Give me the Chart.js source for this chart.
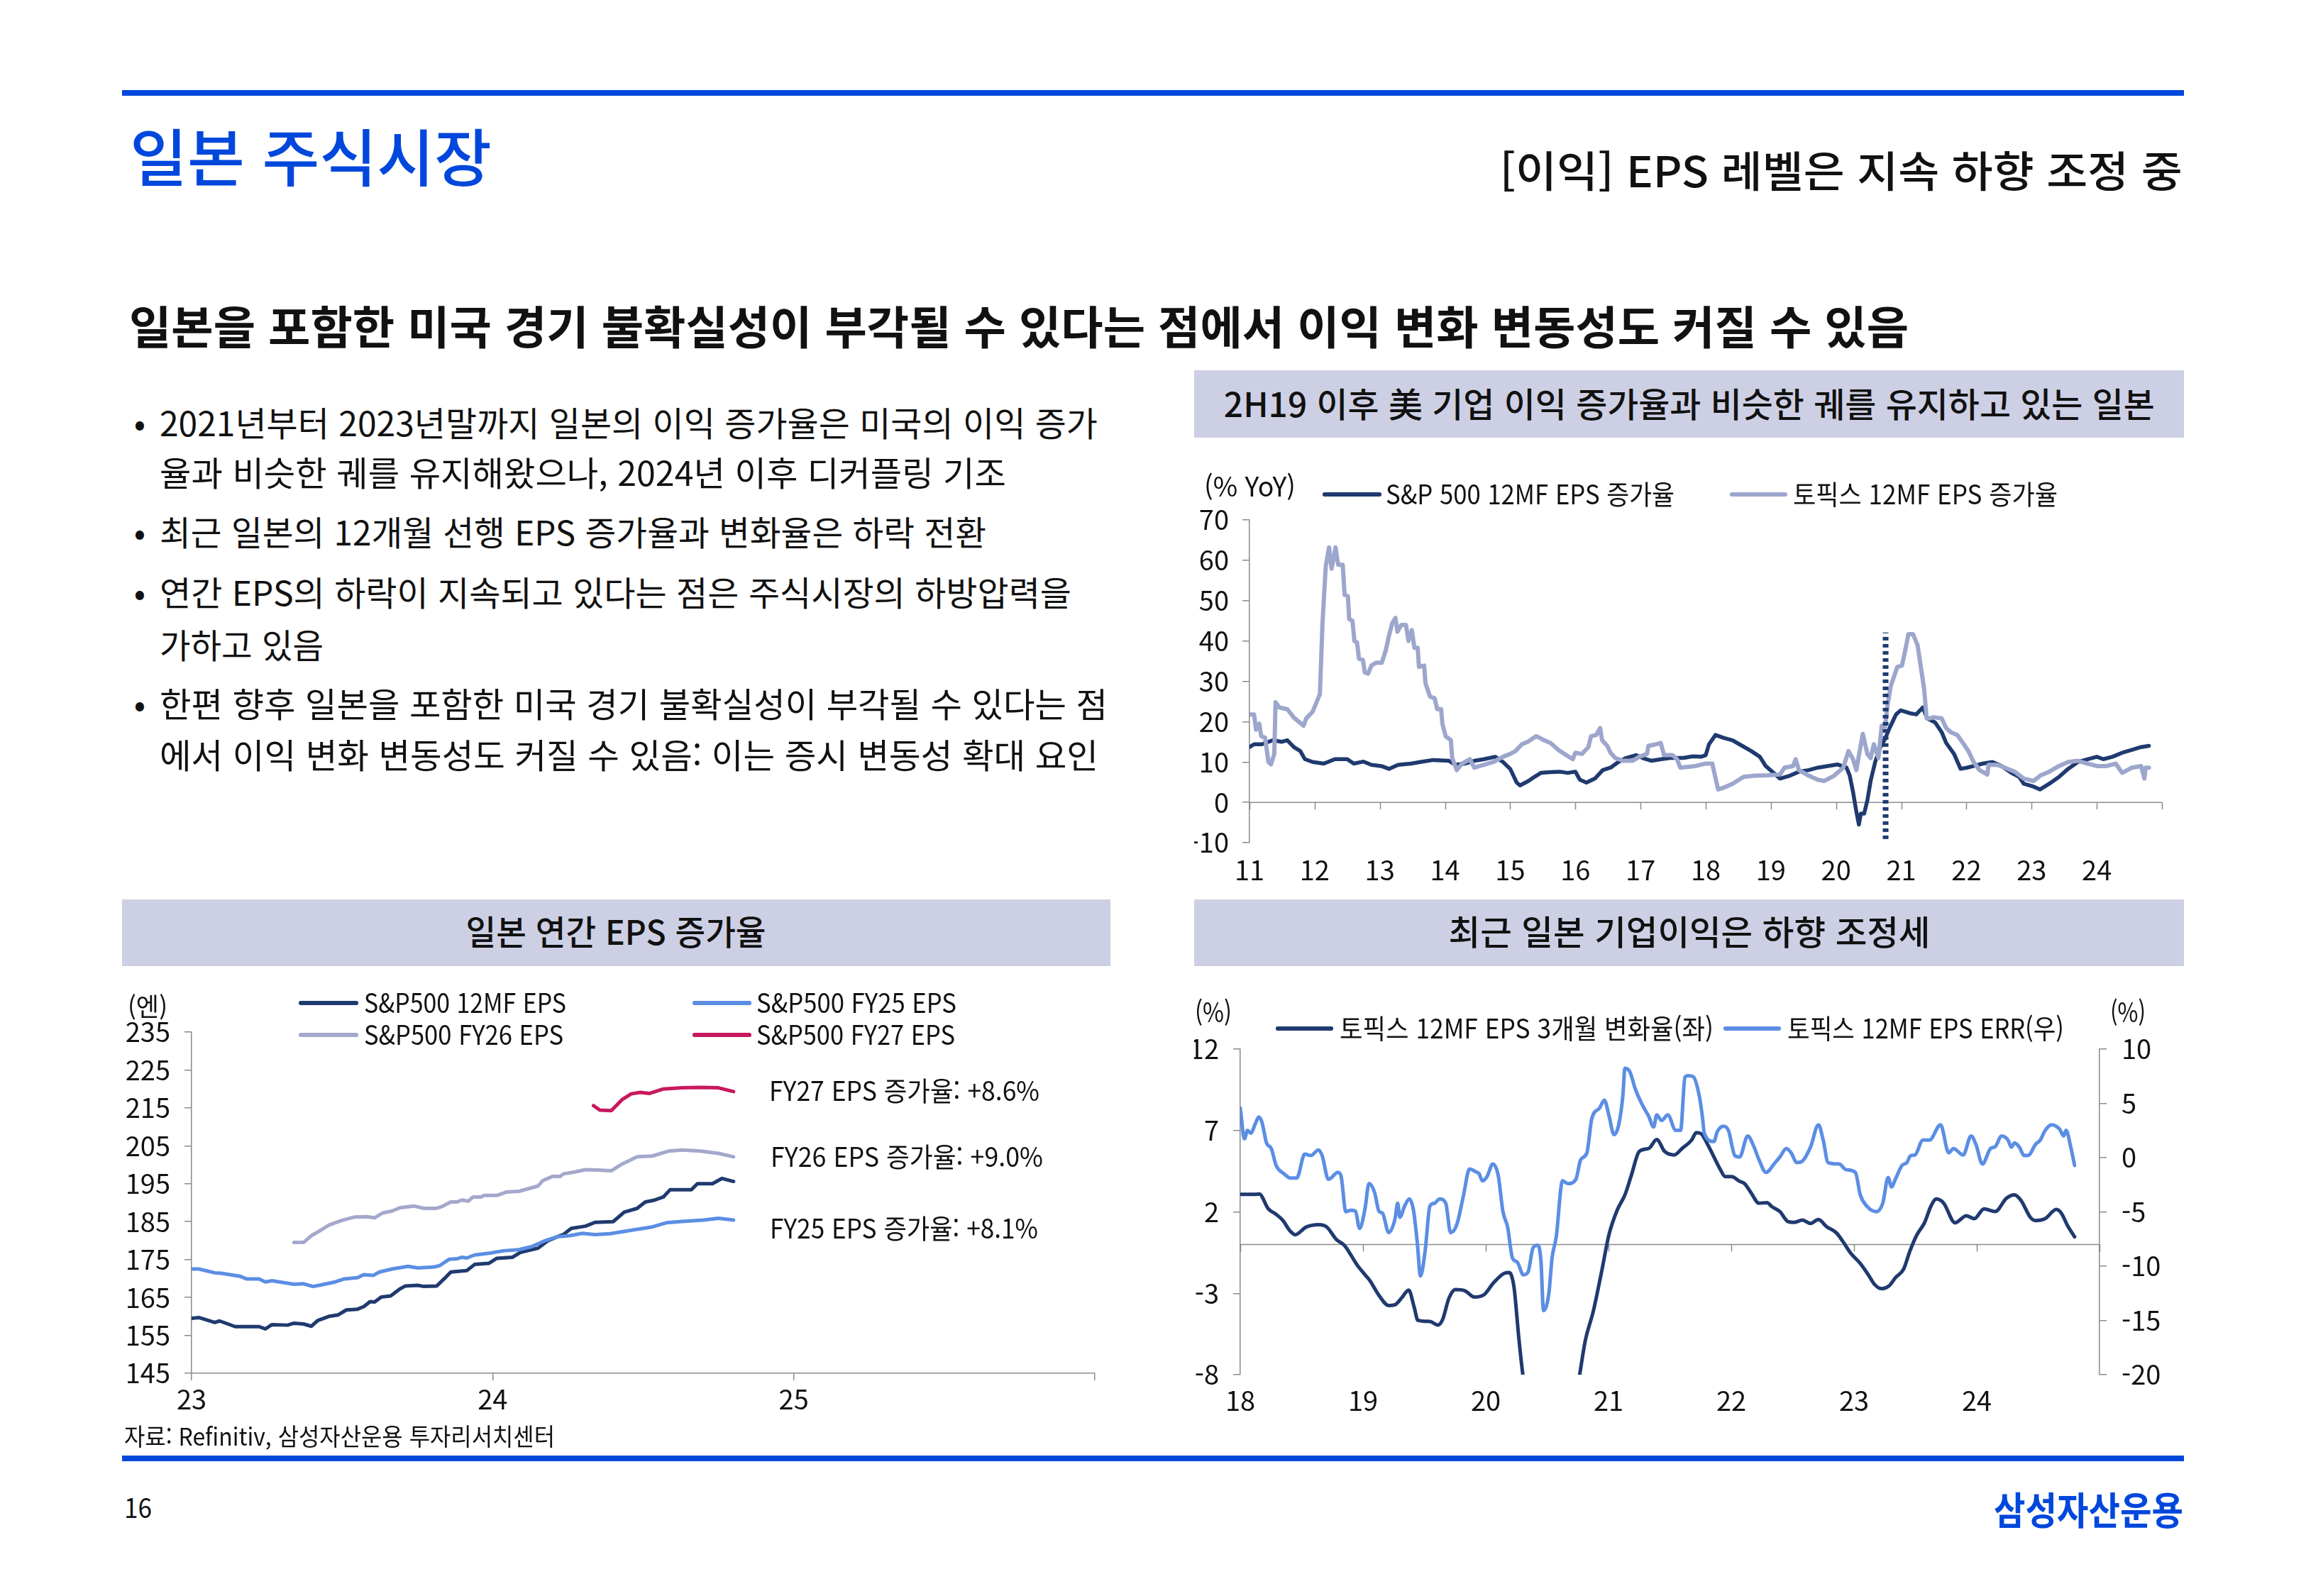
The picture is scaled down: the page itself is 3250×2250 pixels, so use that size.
<!DOCTYPE html>
<html lang="ko"><head><meta charset="utf-8"><title>일본 주식시장</title>
<script src="https://cdn.jsdelivr.net/npm/chart.js@4.4.1/dist/chart.umd.min.js"></script>
<style>
html,body{margin:0;padding:0;background:#fff;}
#page{position:relative;width:3250px;height:2250px;overflow:hidden;background:#fff;font-family:"Noto Sans CJK KR","Noto Sans",sans-serif;color:#111;}
.t{position:absolute;left:0;top:0;white-space:nowrap;}
.r{position:absolute;}
canvas{position:absolute;}
</style></head><body><div id="page">
<canvas id="c1" width="1395" height="640" style="left:1683px;top:640px;width:1395px;height:640px"></canvas>
<canvas id="c2" width="1400" height="640" style="left:172px;top:1380px;width:1400px;height:640px"></canvas>
<canvas id="c3" width="1395" height="640" style="left:1683px;top:1380px;width:1395px;height:640px"></canvas>
</div>
<script>
// ---------------- DATA ----------------
// Chart 1: 12MF EPS growth (% YoY)
const c1YearLabels = ['11','12','13','14','15','16','17','18','19','20','21','22','23','24'];
const c1SpYears = [2011.00,2011.07,2011.19,2011.36,2011.49,2011.58,2011.68,2011.78,2011.85,2011.97,2012.14,2012.31,2012.50,2012.60,2012.75,2012.87,2013.02,2013.14,2013.28,2013.48,2013.62,2013.82,2014.06,2014.16,2014.30,2014.45,2014.60,2014.77,2014.89,2015.00,2015.05,2015.10,2015.15,2015.28,2015.37,2015.47,2015.62,2015.76,2015.88,2016.00,2016.07,2016.17,2016.30,2016.42,2016.54,2016.66,2016.78,2016.93,2017.03,2017.17,2017.32,2017.46,2017.66,2017.80,2017.93,2018.00,2018.05,2018.15,2018.27,2018.41,2018.56,2018.70,2018.83,2018.92,2019.02,2019.14,2019.29,2019.43,2019.58,2019.72,2019.87,2020.02,2020.16,2020.21,2020.26,2020.31,2020.35,2020.38,2020.43,2020.48,2020.53,2020.60,2020.67,2020.75,2020.82,2020.92,2020.99,2021.13,2021.23,2021.33,2021.40,2021.52,2021.62,2021.69,2021.81,2021.91,2022.01,2022.11,2022.25,2022.40,2022.54,2022.69,2022.81,2022.88,2023.03,2023.13,2023.27,2023.42,2023.56,2023.71,2023.86,2024.00,2024.10,2024.24,2024.39,2024.54,2024.68,2024.80];
const c1SpGrowth = [13.7,14.4,14.4,15.4,15.0,15.4,13.7,12.7,10.7,10.0,9.6,10.7,10.7,9.6,10.1,9.3,9.0,8.3,9.3,9.6,10.0,10.5,10.3,9.3,9.6,10.3,10.7,11.3,10.0,8.3,6.6,4.9,4.2,5.3,6.3,7.3,7.5,7.6,7.3,7.6,5.6,4.9,5.9,8.0,8.6,10.0,11.0,11.7,11.0,10.3,10.7,11.0,11.0,11.4,11.3,11.7,14.4,16.7,16.0,15.4,14.0,12.7,11.3,9.0,7.6,5.9,6.6,7.6,8.0,8.6,9.0,9.4,8.6,6.6,2.6,-2.2,-5.5,-2.8,-2.8,0.5,5.3,10.0,13.4,15.7,18.4,21.8,22.8,22.1,21.8,23.5,20.8,19.8,17.4,14.7,12.0,8.3,8.6,9.0,9.6,10.0,9.0,7.3,6.3,4.6,3.9,3.2,4.6,6.3,8.3,10.0,10.7,11.3,10.7,11.3,12.3,13.0,13.7,14.0];
const c1TpxYears = [2011.00,2011.07,2011.10,2011.15,2011.18,2011.24,2011.29,2011.33,2011.38,2011.40,2011.46,2011.58,2011.68,2011.83,2011.87,2011.97,2012.02,2012.08,2012.12,2012.17,2012.22,2012.26,2012.32,2012.36,2012.43,2012.46,2012.51,2012.53,2012.58,2012.61,2012.65,2012.68,2012.74,2012.77,2012.82,2012.87,2012.94,2013.03,2013.09,2013.14,2013.19,2013.24,2013.27,2013.33,2013.40,2013.44,2013.49,2013.53,2013.58,2013.60,2013.68,2013.70,2013.77,2013.84,2013.88,2013.94,2013.96,2014.01,2014.09,2014.11,2014.18,2014.26,2014.38,2014.45,2014.60,2014.74,2014.89,2015.00,2015.08,2015.18,2015.27,2015.40,2015.52,2015.62,2015.74,2015.86,2015.96,2016.00,2016.10,2016.20,2016.24,2016.32,2016.38,2016.41,2016.49,2016.54,2016.61,2016.73,2016.88,2016.98,2017.10,2017.12,2017.24,2017.31,2017.36,2017.49,2017.56,2017.61,2017.84,2018.00,2018.10,2018.19,2018.27,2018.41,2018.58,2018.75,2018.95,2019.14,2019.21,2019.34,2019.38,2019.43,2019.58,2019.72,2019.82,2019.97,2020.11,2020.19,2020.26,2020.31,2020.41,2020.48,2020.53,2020.58,2020.65,2020.70,2020.75,2020.79,2020.84,2020.94,2021.01,2021.06,2021.11,2021.18,2021.25,2021.30,2021.35,2021.39,2021.43,2021.50,2021.62,2021.69,2021.76,2021.86,2021.96,2022.03,2022.11,2022.20,2022.32,2022.34,2022.47,2022.59,2022.74,2022.88,2023.03,2023.13,2023.27,2023.42,2023.56,2023.71,2023.86,2024.00,2024.15,2024.29,2024.39,2024.54,2024.68,2024.73,2024.75,2024.80];
const c1TpxGrowth = [21.8,21.8,18.0,19.5,16.4,16.0,10.0,9.4,12.0,24.8,23.5,23.1,21.0,19.0,20.8,22.5,24.5,26.8,44.4,58.5,63.2,57.9,63.2,58.9,58.9,51.4,51.1,45.4,45.0,40.0,39.6,35.6,35.3,32.2,31.9,33.9,34.6,34.6,37.6,41.3,44.4,45.7,42.3,44.0,44.0,40.0,42.7,38.3,38.3,33.6,33.9,29.5,26.2,25.8,23.1,23.1,19.4,16.4,15.4,11.0,8.0,9.6,10.7,8.6,9.3,10.0,11.3,12.0,12.7,14.4,15.0,16.4,15.4,14.7,13.0,11.7,10.7,12.3,12.0,13.7,16.4,16.7,18.4,15.4,14.0,12.3,11.0,10.3,10.3,11.3,12.0,14.0,14.4,14.7,11.7,11.7,10.7,8.6,9.0,9.6,9.6,3.2,3.6,4.6,6.3,6.6,6.7,6.9,8.6,9.0,10.7,8.0,6.6,5.6,5.3,6.6,8.6,12.7,10.7,8.0,17.0,12.0,11.0,14.4,11.0,19.0,18.7,24.1,28.9,33.6,33.9,37.6,41.7,41.7,39.0,33.6,28.2,20.8,20.8,21.1,20.8,18.4,17.4,16.7,14.4,12.7,10.0,8.0,6.9,9.3,9.3,8.6,7.6,5.9,5.3,6.6,7.6,9.0,10.0,10.3,9.6,9.0,9.0,9.6,7.3,8.6,9.0,5.9,8.6,8.6];
const c1MarkerYear = 2020.76;          // 2H19 reference marker (dotted)
const c1MarkerSpan = [-9.1, 42.1];

// Chart 2: EPS levels (엔)
const c2YearLabels = ['23','24','25'];
const c2FwdYears = [2023.000,2023.024,2023.077,2023.093,2023.145,2023.224,2023.245,2023.266,2023.319,2023.340,2023.372,2023.398,2023.419,2023.456,2023.487,2023.514,2023.551,2023.572,2023.593,2023.608,2023.630,2023.661,2023.693,2023.709,2023.751,2023.772,2023.814,2023.840,2023.861,2023.887,2023.914,2023.940,2023.987,2024.013,2024.066,2024.092,2024.151,2024.182,2024.214,2024.235,2024.261,2024.308,2024.340,2024.400,2024.437,2024.480,2024.507,2024.534,2024.567,2024.589,2024.660,2024.680,2024.730,2024.762,2024.800];
const c2FwdEps = [159.5,159.7,158.4,158.8,157.3,157.3,156.7,157.8,157.7,158.2,158.0,157.4,158.9,160.0,160.4,161.7,161.9,162.6,163.9,163.8,165.1,165.4,167.3,168.0,168.2,167.9,168.0,170.0,171.7,171.9,172.1,173.7,174.0,175.3,175.6,176.9,178.0,179.9,181.0,181.6,183.2,183.8,184.8,185.0,187.5,188.5,190.2,190.6,191.5,193.4,193.4,195.0,195.0,196.4,195.6];
const c2Fy25Years = [2023.000,2023.024,2023.077,2023.098,2023.161,2023.182,2023.224,2023.245,2023.266,2023.340,2023.372,2023.403,2023.424,2023.477,2023.508,2023.551,2023.572,2023.603,2023.624,2023.666,2023.719,2023.751,2023.803,2023.824,2023.856,2023.882,2023.898,2023.914,2023.940,2023.993,2024.035,2024.087,2024.129,2024.172,2024.214,2024.256,2024.298,2024.340,2024.390,2024.466,2024.530,2024.577,2024.620,2024.700,2024.750,2024.800];
const c2Fy25Eps = [172.5,172.5,171.5,171.4,170.6,169.9,169.9,169.1,169.4,168.5,168.6,167.9,168.2,169.1,169.9,170.2,171.0,170.8,171.7,172.5,173.2,172.8,173.0,173.4,175.1,175.2,175.6,175.4,176.2,176.7,177.3,177.6,178.4,179.9,181.0,181.3,181.9,181.6,181.8,182.8,183.6,184.7,185.0,185.4,185.9,185.4];
const c2Fy26Years = [2023.340,2023.372,2023.398,2023.424,2023.456,2023.498,2023.540,2023.582,2023.608,2023.635,2023.666,2023.693,2023.740,2023.772,2023.814,2023.835,2023.861,2023.882,2023.898,2023.919,2023.935,2023.961,2023.972,2024.014,2024.045,2024.087,2024.119,2024.151,2024.166,2024.198,2024.224,2024.235,2024.266,2024.308,2024.350,2024.394,2024.430,2024.480,2024.530,2024.584,2024.630,2024.690,2024.750,2024.800];
const c2Fy26Eps = [179.5,179.5,181.3,182.5,184.1,185.3,186.2,186.3,186.0,187.3,187.8,188.7,189.1,188.5,188.5,189.1,190.2,190.2,190.7,190.4,191.5,191.5,191.9,191.9,192.8,193.0,193.7,194.4,195.8,196.9,196.9,197.6,198.0,198.7,198.6,198.4,200.2,202.1,202.3,203.6,203.9,203.6,203.0,202.1];
const c2Fy27Years = [2024.335,2024.356,2024.394,2024.430,2024.460,2024.490,2024.520,2024.567,2024.630,2024.690,2024.750,2024.800];
const c2Fy27Eps = [215.6,214.4,214.3,217.2,218.7,219.1,218.8,220.0,220.3,220.4,220.3,219.3];

// Chart 3: TOPIX 12MF EPS 3M change (left) and ERR (right), %
const c3YearLabels = ['18','19','20','21','22','23','24'];
const c3ChgYears = [2018.000,2018.124,2018.155,2018.227,2018.292,2018.344,2018.408,2018.447,2018.537,2018.641,2018.705,2018.783,2018.848,2018.951,2019.016,2019.054,2019.132,2019.209,2019.261,2019.313,2019.372,2019.416,2019.447,2019.545,2019.610,2019.649,2019.700,2019.752,2019.829,2019.907,2019.984,2020.062,2020.152,2020.191,2020.230,2020.269,2020.302,2020.400,2020.550,2020.700,2020.765,2020.811,2020.876,2020.941,2021.005,2021.070,2021.134,2021.186,2021.251,2021.328,2021.393,2021.457,2021.535,2021.600,2021.676,2021.715,2021.754,2021.807,2021.859,2021.911,2021.951,2022.003,2022.068,2022.108,2022.160,2022.226,2022.291,2022.330,2022.396,2022.461,2022.514,2022.579,2022.645,2022.710,2022.776,2022.854,2022.907,2022.972,2023.051,2023.116,2023.168,2023.226,2023.286,2023.339,2023.404,2023.456,2023.509,2023.574,2023.627,2023.671,2023.731,2023.823,2023.915,2023.980,2024.059,2024.150,2024.242,2024.308,2024.360,2024.439,2024.478,2024.557,2024.648,2024.688,2024.740,2024.797];
const c3Chg = [3.08,3.08,3.10,2.20,1.85,1.50,0.81,0.60,1.07,1.22,1.07,0.30,-0.05,-1.25,-1.86,-2.20,-3.15,-3.75,-3.70,-3.30,-2.80,-3.83,-4.66,-4.73,-4.95,-4.60,-3.30,-2.77,-2.84,-3.23,-3.10,-2.37,-1.77,-1.73,-2.63,-5.73,-8.00,-13.0,-15.0,-11.0,-8.00,-5.90,-4.10,-1.77,0.64,2.10,3.05,4.25,5.72,5.90,6.44,5.72,5.50,5.90,6.40,6.87,6.80,6.15,5.37,4.60,4.17,4.17,3.88,3.74,3.19,2.53,2.57,2.33,2.02,1.41,1.36,1.50,1.29,1.53,1.10,0.73,0.21,-0.53,-1.17,-1.86,-2.46,-2.72,-2.54,-2.03,-1.51,-0.39,0.55,1.33,2.36,2.79,2.53,1.33,1.76,1.59,2.19,2.02,2.84,3.05,2.71,1.64,1.47,1.59,2.15,1.93,1.15,0.47];
const c3ErrYears = [2018.000,2018.034,2018.059,2018.085,2018.124,2018.150,2018.176,2018.214,2018.253,2018.292,2018.357,2018.408,2018.460,2018.525,2018.576,2018.636,2018.667,2018.718,2018.796,2018.822,2018.860,2018.899,2018.938,2018.972,2019.016,2019.049,2019.093,2019.132,2019.158,2019.209,2019.261,2019.282,2019.300,2019.339,2019.377,2019.411,2019.442,2019.468,2019.506,2019.545,2019.584,2019.623,2019.674,2019.713,2019.765,2019.817,2019.868,2019.920,2019.946,2019.972,2020.010,2020.057,2020.101,2020.140,2020.178,2020.217,2020.256,2020.307,2020.346,2020.385,2020.424,2020.450,2020.470,2020.514,2020.540,2020.574,2020.625,2020.669,2020.734,2020.773,2020.824,2020.863,2020.928,2020.966,2021.005,2021.044,2021.083,2021.116,2021.134,2021.173,2021.220,2021.276,2021.328,2021.367,2021.393,2021.432,2021.483,2021.548,2021.587,2021.623,2021.649,2021.689,2021.741,2021.767,2021.780,2021.859,2021.885,2021.937,2021.977,2022.029,2022.068,2022.134,2022.186,2022.226,2022.283,2022.357,2022.396,2022.448,2022.487,2022.535,2022.579,2022.645,2022.710,2022.749,2022.789,2022.880,2022.933,2023.011,2023.051,2023.103,2023.182,2023.234,2023.278,2023.305,2023.339,2023.391,2023.430,2023.462,2023.496,2023.561,2023.614,2023.705,2023.771,2023.810,2023.889,2023.954,2023.993,2024.046,2024.111,2024.150,2024.203,2024.255,2024.281,2024.308,2024.347,2024.386,2024.425,2024.478,2024.517,2024.557,2024.609,2024.674,2024.708,2024.727,2024.766,2024.797];
const c3Err = [4.58,1.74,2.51,2.25,3.16,3.75,3.29,1.35,0.83,-0.72,-1.49,-1.88,-1.88,0.32,0.19,0.70,0.19,-2.00,-1.36,-1.75,-4.98,-4.85,-4.92,-6.52,-4.72,-2.39,-3.17,-4.98,-5.10,-6.91,-5.62,-4.20,-5.49,-4.46,-3.81,-4.85,-7.82,-10.90,-8.60,-4.46,-4.20,-3.81,-4.20,-6.91,-6.14,-3.56,-1.05,-1.31,-1.49,-2.14,-1.75,-0.59,-1.62,-4.98,-6.40,-9.24,-9.62,-10.80,-10.50,-8.30,-8.07,-9.60,-14.10,-12.50,-9.24,-7.30,-2.14,-2.39,-2.00,-0.20,0.45,3.55,4.58,5.30,3.80,2.12,3.03,5.60,8.24,7.93,6.26,4.84,3.80,2.82,3.93,3.42,3.93,2.51,2.51,7.42,7.55,7.47,5.60,3.55,2.25,1.48,2.38,2.90,2.51,0.19,0.06,2.00,0.96,-0.20,-1.36,-0.46,0.06,0.83,0.45,-0.46,-0.33,0.96,3.03,1.61,-0.46,-0.59,-1.10,-1.36,-3.43,-4.46,-4.98,-4.20,-1.83,-2.70,-1.93,-0.72,-0.46,0.19,0.24,1.61,1.61,3.03,0.45,0.83,0.24,2.00,1.22,-0.59,0.83,1.01,2.00,1.61,0.96,1.35,0.96,0.19,0.24,1.22,1.61,2.51,3.03,2.64,2.00,2.51,0.96,-0.72];

// ---------------- STYLE ----------------
const BRAND = '#0047dc', BOX = '#cdd0e4', AXIS = '#8a8a8a', TXT = '#111';
const NAVY = '#1f3a6f', LAV = '#9da6cc', BLUE = '#5b8ee4', FY26C = '#a3a8cc', FY27C = '#c8195f';
const FONT = '"Noto Sans CJK KR","Noto Sans",sans-serif';
const page = document.getElementById('page');

function R(x, y, w, h, color, radius) {
  const d = document.createElement('div');
  d.className = 'r';
  Object.assign(d.style, {left: x + 'px', top: y + 'px', width: w + 'px', height: h + 'px', background: color});
  if (radius) d.style.borderRadius = radius + 'px';
  page.appendChild(d);
}
function T(str, x, cy, size, o = {}) {
  const d = document.createElement('div');
  d.className = 't';
  d.textContent = str;
  Object.assign(d.style, {fontSize: size + 'px', lineHeight: (size * 1.2) + 'px', fontWeight: o.weight || 400, color: o.color || TXT});
  d.style.top = (cy - size * 0.656) + 'px';
  page.appendChild(d);
  const w0 = d.getBoundingClientRect().width;
  const align = o.align || 'left';
  if (align === 'left') { d.style.left = x + 'px'; d.style.transformOrigin = '0 50%'; }
  else if (align === 'right') { d.style.left = (x - w0) + 'px'; d.style.transformOrigin = '100% 50%'; }
  else { d.style.left = (x - w0 / 2) + 'px'; d.style.transformOrigin = '50% 50%'; }
  if (o.w) d.style.transform = 'scaleX(' + (o.w / w0) + ')';
}
function legendLine(x1, x2, cy, color) { R(x1, cy - 2.75, x2 - x1, 5.5, color, 2.75); }

// ---------------- PAGE FRAME ----------------
R(172, 127, 2906, 8, BRAND);
T('일본 주식시장', 183, 222, 88, {weight: 500, color: BRAND, w: 510});
T('[이익] EPS 레벨은 지속 하향 조정 중', 3076, 241, 60, {weight: 500, align: 'right', w: 962});
T('일본을 포함한 미국 경기 불확실성이 부각될 수 있다는 점에서 이익 변화 변동성도 커질 수 있음', 182, 461, 64, {weight: 700, w: 2508});

const bulletLines = [
  ['2021년부터 2023년말까지 일본의 이익 증가율은 미국의 이익 증가', 597, 1322, true],
  ['율과 비슷한 궤를 유지해왔으나, 2024년 이후 디커플링 기조', 667, 1193, false],
  ['최근 일본의 12개월 선행 EPS 증가율과 변화율은 하락 전환', 751, 1165, true],
  ['연간 EPS의 하락이 지속되고 있다는 점은 주식시장의 하방압력을', 836, 1285, true],
  ['가하고 있음', 910, 231, false],
  ['한편 향후 일본을 포함한 미국 경기 불확실성이 부각될 수 있다는 점', 993, 1336, true],
  ['에서 이익 변화 변동성도 커질 수 있음: 이는 증시 변동성 확대 요인', 1065, 1323, false]
];
bulletLines.forEach(([s, cy, w, b]) => {
  if (b) T('•', 197, cy, 48, {align: 'center'});
  T(s, 225, cy, 48, {w});
});

// header boxes
R(1683, 522, 1395, 95, BOX);
T('2H19 이후 美 기업 이익 증가율과 비슷한 궤를 유지하고 있는 일본', 2381, 570, 48, {weight: 500, align: 'center', w: 1312});
R(172, 1268, 1393, 94, BOX);
T('일본 연간 EPS 증가율', 868, 1314, 48, {weight: 500, align: 'center', w: 423});
R(1683, 1268, 1395, 94, BOX);
T('최근 일본 기업이익은 하향 조정세', 2381, 1314, 48, {weight: 500, align: 'center', w: 679});

// chart 1 legend
T('(% YoY)', 1697, 686, 38, {w: 129});
legendLine(1864, 1947, 697, NAVY);
T('S&P 500 12MF EPS 증가율', 1953, 697, 38, {w: 407});
legendLine(2438, 2519, 697, LAV);
T('토픽스 12MF EPS 증가율', 2527, 697, 38, {w: 373});

// chart 2 legend & notes
T('(엔)', 180, 1420, 36, {w: 56});
legendLine(421, 505, 1414, NAVY);
T('S&P500 12MF EPS', 513, 1414, 38, {w: 285});
legendLine(421, 505, 1459, FY26C);
T('S&P500 FY26 EPS', 513, 1459, 38, {w: 281});
legendLine(976, 1059, 1414, BLUE);
T('S&P500 FY25 EPS', 1066, 1414, 38, {w: 282});
legendLine(976, 1059, 1459, FY27C);
T('S&P500 FY27 EPS', 1066, 1459, 38, {w: 280});
T('FY27 EPS 증가율: +8.6%', 1084, 1538, 38, {w: 381});
T('FY26 EPS 증가율: +9.0%', 1086, 1631, 38, {w: 384});
T('FY25 EPS 증가율: +8.1%', 1085, 1732, 38, {w: 378});

// chart 3 legend
T('(%)', 1684, 1427, 38, {w: 52});
legendLine(1798, 1879, 1450, NAVY);
T('토픽스 12MF EPS 3개월 변화율(좌)', 1888, 1450, 38, {w: 527});
legendLine(2429, 2510, 1450, BLUE);
T('토픽스 12MF EPS ERR(우)', 2519, 1450, 38, {w: 390});
T('(%)', 2974, 1427, 38, {w: 50});

// footer
T('자료: Refinitiv, 삼성자산운용 투자리서치센터', 175, 2026, 34, {w: 607});
R(172, 2052, 2906, 8, BRAND);
T('16', 175, 2126, 38, {w: 39});
T('삼성자산운용', 3077, 2130, 54, {weight: 700, color: BRAND, align: 'right', w: 267});

// ---------------- CHARTS ----------------
const xy = (xs, ys) => xs.map((x, i) => ({x, y: ys[i]}));
const tickFont = {family: FONT, size: 38};
const zeroAxis = {
  id: 'zeroAxis',
  beforeDatasetsDraw(chart, args, opts) {
    const {ctx, chartArea: a, scales} = chart;
    const y = scales[opts.yID].getPixelForValue(0);
    const xs = scales.x;
    ctx.save();
    ctx.strokeStyle = AXIS; ctx.lineWidth = 1.5;
    ctx.beginPath();
    ctx.moveTo(a.left, y); ctx.lineTo(a.right, y);
    for (let v = xs.min; v <= xs.max; v++) {
      const px = Math.round(xs.getPixelForValue(v)) + 0.5;
      ctx.moveTo(px, y); ctx.lineTo(px, y + 10);
    }
    ctx.stroke();
    ctx.restore();
  }
};
const baseLine = (color, w) => ({borderColor: color, backgroundColor: color, borderWidth: w, pointRadius: 0, tension: 0, borderJoinStyle: 'round', borderCapStyle: 'round', fill: false});
const yAxisBase = (padding) => ({
  grid: {drawOnChartArea: false, color: AXIS, tickLength: 10, lineWidth: 1.5},
  border: {display: true, color: AXIS, width: 1.5},
  ticks: {padding, font: tickFont, color: TXT}
});
const common = {animation: false, responsive: false, devicePixelRatio: 1, events: [],
  plugins: {legend: {display: false}, tooltip: {enabled: false}}};

// Chart 1
new Chart(document.getElementById('c1'), {
  type: 'line',
  data: {datasets: [
    Object.assign(baseLine(NAVY, 5.5), {label: 'S&P 500 12MF EPS 증가율', data: xy(c1SpYears, c1SpGrowth), order: 2}),
    Object.assign(baseLine(LAV, 6), {label: '토픽스 12MF EPS 증가율', data: xy(c1TpxYears, c1TpxGrowth), order: 1}),
    Object.assign(baseLine(NAVY, 8), {label: 'marker', data: xy([c1MarkerYear, c1MarkerYear], c1MarkerSpan), borderDash: [5, 5], borderCapStyle: 'butt', order: 0})
  ]},
  options: Object.assign({}, common, {
    layout: {padding: {left: 0, right: 31, top: 93, bottom: 0}},
    plugins: Object.assign({}, common.plugins, {zeroAxis: {yID: 'y'}}),
    scales: {
      x: {type: 'linear', min: 2011, max: 2025,
        grid: {display: false, drawTicks: false}, border: {display: false},
        ticks: {stepSize: 1, padding: 16, font: tickFont, color: TXT, maxRotation: 0, autoSkip: false,
          callback: v => c1YearLabels[v - 2011] ?? ''},
        afterFit: s => { s.height = 92; }},
      y: Object.assign(yAxisBase(19), {min: -10, max: 70, afterFit: s => { s.width = 78; }})
    }
  }),
  plugins: [zeroAxis]
});
Chart.getChart('c1').options.scales.y.ticks.stepSize = 10;
Chart.getChart('c1').update('none');

// Chart 2
new Chart(document.getElementById('c2'), {
  type: 'line',
  data: {datasets: [
    Object.assign(baseLine(NAVY, 5), {label: 'S&P500 12MF EPS', data: xy(c2FwdYears, c2FwdEps), order: 3}),
    Object.assign(baseLine(BLUE, 5), {label: 'S&P500 FY25 EPS', data: xy(c2Fy25Years, c2Fy25Eps), order: 2}),
    Object.assign(baseLine(FY26C, 5), {label: 'S&P500 FY26 EPS', data: xy(c2Fy26Years, c2Fy26Eps), order: 1}),
    Object.assign(baseLine(FY27C, 5), {label: 'S&P500 FY27 EPS', data: xy(c2Fy27Years, c2Fy27Eps), order: 0})
  ]},
  options: Object.assign({}, common, {
    layout: {padding: {left: 0, right: 29, top: 75, bottom: 0}},
    scales: {
      x: {type: 'linear', min: 2023, max: 2026,
        grid: {drawOnChartArea: false, color: AXIS, tickLength: 10, lineWidth: 1.5},
        border: {display: true, color: AXIS, width: 1.5},
        ticks: {stepSize: 1, padding: 4, font: tickFont, color: TXT, maxRotation: 0, autoSkip: false,
          callback: v => c2YearLabels[v - 2023] ?? ''},
        afterFit: s => { s.height = 84; }},
      y: Object.assign(yAxisBase(20), {min: 145, max: 235, afterFit: s => { s.width = 98; }})
    }
  })
});
Chart.getChart('c2').options.scales.y.ticks.stepSize = 10;
Chart.getChart('c2').update('none');

// Chart 3
new Chart(document.getElementById('c3'), {
  type: 'line',
  data: {datasets: [
    Object.assign(baseLine(NAVY, 5), {label: '토픽스 12MF EPS 3개월 변화율(좌)', data: xy(c3ChgYears, c3Chg), yAxisID: 'y', cubicInterpolationMode: 'monotone', order: 1, clip: 0}),
    Object.assign(baseLine(BLUE, 5), {label: '토픽스 12MF EPS ERR(우)', data: xy(c3ErrYears, c3Err), yAxisID: 'y2', cubicInterpolationMode: 'monotone', order: 0})
  ]},
  options: Object.assign({}, common, {
    layout: {padding: {left: 0, right: 0, top: 99, bottom: 0}},
    plugins: Object.assign({}, common.plugins, {zeroAxis: {yID: 'y'}}),
    scales: {
      x: {type: 'linear', min: 2018, max: 2025,
        grid: {display: false, drawTicks: false}, border: {display: false},
        ticks: {stepSize: 1, padding: 14, font: tickFont, color: TXT, maxRotation: 0, autoSkip: false,
          callback: v => c3YearLabels[v - 2018] ?? ''},
        afterFit: s => { s.height = 82; }},
      y: Object.assign(yAxisBase(20), {position: 'left', min: -8, max: 12, afterFit: s => { s.width = 65; }}),
      y2: Object.assign(yAxisBase(21), {position: 'right', min: -20, max: 10, afterFit: s => { s.width = 119; }})
    }
  }),
  plugins: [zeroAxis]
});
Chart.getChart('c3').options.scales.y.ticks.stepSize = 5;
Chart.getChart('c3').options.scales.y2.ticks.stepSize = 5;
Chart.getChart('c3').update('none');
</script></body></html>
